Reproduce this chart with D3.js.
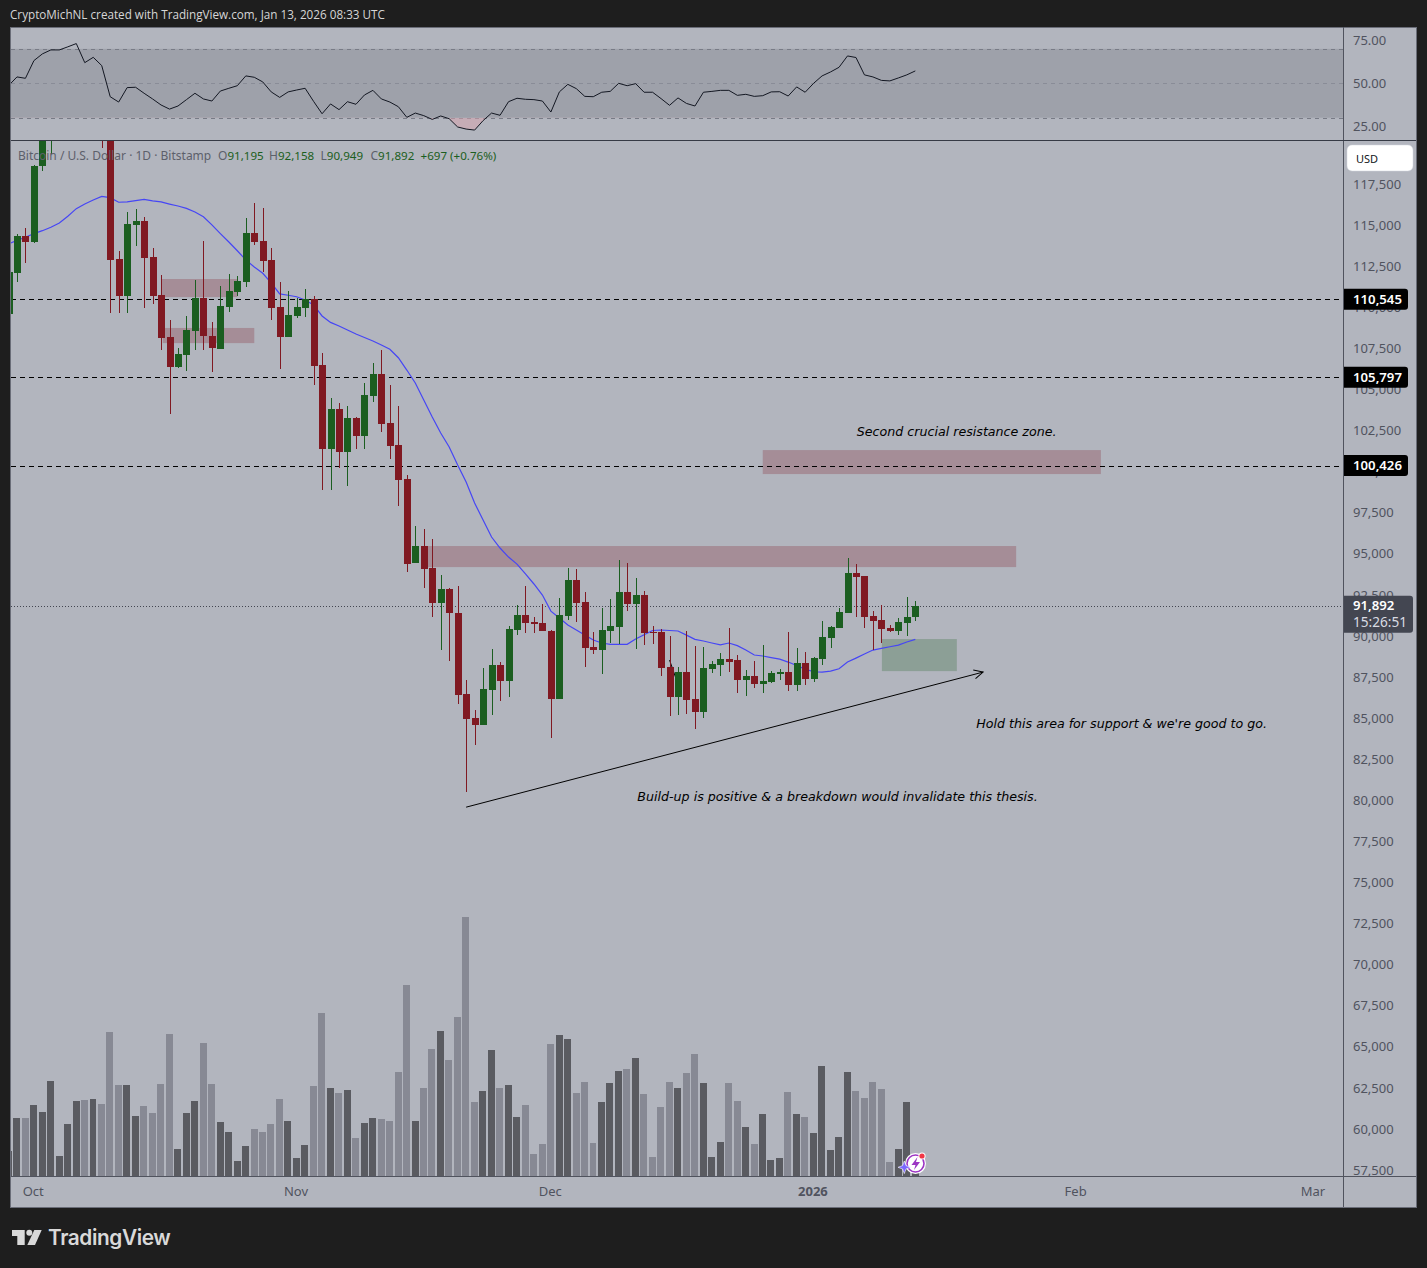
<!DOCTYPE html>
<html><head><meta charset="utf-8">
<script src="https://cdn.jsdelivr.net/npm/d3@7/dist/d3.min.js"></script>
<style>html,body{margin:0;padding:0;background:#1e1e1e;overflow:hidden}svg{display:block}</style>
</head><body><svg id="c" width="1427" height="1268"></svg>
<script>
const opens=[109670,112160,114400,114030,118670,120500,122200,122400,123500,124700,121400,123300,121700,112980,110760,115070,115310,113120,110810,108250,106440,107170,108610,110620,108310,107540,110090,111010,111610,114580,114090,112940,110080,108270,109530,110030,110560,106550,101450,103870,101270,103320,102240,104680,106000,103020,101680,99610,94510,95530,94190,92080,92910,91450,86520,85060,84650,86790,88290,87330,90440,91330,90900,90840,90360,86240,91290,93460,92120,89380,89220,90370,90620,92730,92020,92550,90300,90300,88170,86360,87860,86220,85450,88060,88300,88650,88590,87390,87620,87150,87270,87740,87860,87090,88410,87450,88670,89950,90560,91470,93890,93700,91270,91030,90540,90360,90860,91195];
const closes=[112190,114400,114030,118660,120500,122200,122400,123500,124700,121400,123300,121700,112950,110760,115130,115310,113080,110760,108210,106440,107210,108680,110620,108330,107600,110140,111050,111660,114580,114030,112890,110030,108270,109590,110080,110560,106500,101450,103870,101270,103320,102240,104720,106000,102970,101630,99560,94450,95530,94150,92080,92910,91470,86480,85020,84650,86830,88290,87330,90480,91330,90860,90800,90370,86240,91330,93460,92080,89340,89200,90420,90660,92730,92020,92550,90250,90230,88120,86360,87860,86180,85450,88100,88350,88650,88470,87390,87620,87150,87310,87800,87860,87090,88410,87450,88710,89990,90600,91510,93890,93660,91230,90980,90500,90360,90900,91210,91892];
const highs=[112330,114520,114880,118720,121000,122900,122900,125500,126200,125100,124000,123700,122500,113470,115840,116020,115530,113670,112020,109280,107580,109530,111720,114090,109160,111350,112080,111960,115490,116400,116100,113670,111600,111050,110620,111170,110750,107280,104540,104230,104050,103380,105450,106670,107460,105330,104050,99850,96750,96560,95960,93760,92970,93090,87370,85550,88100,89260,88470,90660,91940,93090,91210,92000,90420,92360,94190,94130,92730,90300,91760,92300,94680,94500,93580,92790,90660,90480,90050,88170,90360,89440,89380,88530,89020,90540,88900,87980,88530,89500,87920,88040,90300,89320,89080,88770,90970,90660,91760,94800,94430,93700,91570,91940,90720,91150,92430,92158];
const lows=[109590,111610,112770,113990,118370,119390,121700,122000,123200,120600,121100,119750,109730,109730,109730,113810,110030,110280,107480,103580,106380,106200,107480,107480,106140,107540,109790,110760,111310,113850,112200,109280,106320,108270,109410,109490,105350,98960,98960,100300,99200,101450,101450,104310,102490,100840,97980,93970,94510,92990,91230,89220,88550,85930,80580,83440,84650,85260,86110,86360,90130,90250,90250,90370,83860,86240,91040,90920,88180,88980,87760,89640,89580,91590,89280,89520,89580,87640,85200,85260,85320,84410,85080,87820,87640,87880,86600,86420,86910,86600,87210,87390,86720,86720,87090,87270,88300,89340,90560,91470,91230,90560,89200,89640,90310,90130,90070,90949];
const volumes=[500,1160,1160,1420,1280,1900,400,1040,1500,1520,1540,1440,2880,1820,1820,1200,1400,1260,1840,2840,540,1260,1500,2660,1840,1080,880,300,600,940,880,1040,1540,1100,360,620,1800,3260,1760,1660,1720,760,1060,1160,1140,1100,2080,3820,1100,1760,2540,2900,2320,3180,5180,1480,1700,2520,1760,1820,1180,1420,440,640,2640,2820,2740,1660,1880,660,1480,1860,2100,2140,2360,1640,380,1380,1880,1760,2060,2440,1860,380,680,1860,1500,980,640,1240,320,360,1680,1240,1180,860,2200,520,780,2080,1700,1560,1880,1740,280,540,1480,160];
const maValues=[113910,114130,114320,114540,114720,114930,115190,115600,116060,116340,116590,116810,116730,116450,116470,116550,116630,116530,116470,116340,116220,116080,115860,115570,115070,114540,114030,113500,112940,112510,112130,111550,110870,110790,110700,110500,110200,109530,109140,108920,108680,108430,108220,108010,107760,107500,106990,106240,105450,104420,103380,102410,101560,100460,99430,98150,97110,96080,95410,94860,94430,93830,93220,92550,91570,91150,90720,90420,90110,89810,89630,89550,89550,89550,89870,90130,90390,90420,90390,90360,90110,89850,89750,89630,89520,89630,89470,89200,88900,88840,88740,88650,88470,88260,88040,87880,87860,87920,88060,88470,88710,88960,89200,89300,89400,89500,89690,89850];
const rsiValues=[48.6,53.7,52.9,63.2,67.1,69.4,69.4,71.2,73.1,62.0,65.1,60.3,42.2,39.1,47.5,47.7,44.2,40.9,37.4,35.0,36.8,40.5,44.2,40.9,39.7,45.5,47.1,48.6,54.3,53.5,50.8,45.0,41.8,45.0,46.1,47.1,39.5,32.3,38.0,34.7,39.3,37.8,43.2,45.9,40.9,39.1,36.4,30.2,32.7,31.2,29.0,31.0,29.4,24.6,23.4,22.8,28.3,32.7,31.4,39.3,41.3,40.7,40.5,39.7,33.3,45.0,49.4,46.9,42.4,42.2,44.8,45.3,50,48.6,49.8,44.8,44.8,41.1,37.2,41.5,38.3,36.8,44.8,45.3,45.9,45.9,43.0,43.6,42.4,42.8,45.0,45.1,42.6,47.9,44.8,50,54.3,56.6,59.3,65.9,65.0,54.9,53.7,51.7,51.4,53.1,54.9,57.2];
const priceTicks=[117500,115000,112500,110000,107500,105000,102500,100000,97500,95000,92500,90000,87500,85000,82500,80000,77500,75000,72500,70000,67500,65000,62500,60000,57500];
const rsiTicks=[75,50,25];
const rsiBands=[70,50,30];
const monthIndex=[3,34,64,95,126,154];
const monthLabels=["Oct","Nov","Dec","2026","Feb","Mar"];
const levels=[110545,105797,100426];
const lastPrice=91892;
const redZones=[[18,27,111780,110680],[18.2,29,108800,107880],[49,118.9,95530,94250],[89,128.9,101370,99910]];
const greenZones=[[103.06,111.9,89870,87920]];
const trendLine=[[54,79640],[115,87860]];
const strayMark=[[78,88590],[78.7,87560],[79.3,87560]];
const notes=[["Second crucial resistance zone.",100.1,102500],["Hold this area for support & we're good to go.",114.2,84730],["Build-up is positive & a breakdown would invalidate this thesis.",74.2,80280]];
const legendTitle="Bitcoin / U.S. Dollar · 1D · Bitstamp";
const legendOHLC=[["O","91,195"],["H","92,158"],["L","90,949"],["C","91,892"]];
const legendChange="+697 (+0.76%)";
const headerText="CryptoMichNL created with TradingView.com, Jan 13, 2026 08:33 UTC";

const L=11,R=1343,T=28,RB=140,TB=1176,FR=1416,FB=1207;
const UI="'Noto Sans',sans-serif";
const GREEN="#1b5e20",RED="#801922",AX="#50535e";
const svg=d3.select("#c");
const x=d3.scaleLinear().domain([0,107]).range([8.5,915.3]);
const y=d3.scaleLinear().domain([117500,57500]).range([185,1171]);
const yR=d3.scaleLinear().domain([50,30]).range([83.3,117.7]);
const yV=d3.scaleLinear().domain([0,5180]).range([1176,917]);
const idx=opens.map((_,i)=>i);
const up=i=>closes[i]>=opens[i];

svg.append("rect").attr("x",10).attr("y",27).attr("width",FR-10+.5).attr("height",FB-27+.5).attr("fill","#b2b5be");
const defs=svg.append("defs");
defs.append("clipPath").attr("id","cm").append("rect").attr("x",L).attr("y",RB+1).attr("width",R-L).attr("height",TB-RB-1);
defs.append("clipPath").attr("id","cr").append("rect").attr("x",L).attr("y",T).attr("width",R-L).attr("height",RB-T);
defs.append("clipPath").attr("id","low").append("rect").attr("x",L).attr("y",yR(30)).attr("width",R-L).attr("height",40);
defs.append("marker").attr("id","ah").attr("markerUnits","userSpaceOnUse").attr("markerWidth",14).attr("markerHeight",14).attr("refX",11).attr("refY",7).attr("orient","auto")
 .append("path").attr("d","M2,2.5L11,7L2,11.5").attr("fill","none").attr("stroke","#000").attr("stroke-width",1);

// RSI pane
const r=svg.append("g").attr("clip-path","url(#cr)");
r.append("rect").attr("x",L).attr("y",yR(70)).attr("width",R-L).attr("height",yR(30)-yR(70)).attr("fill","#9ea1aa");
r.selectAll("line").data(rsiBands).join("line").attr("x1",L).attr("x2",R)
 .attr("y1",d=>Math.round(yR(d))+.5).attr("y2",d=>Math.round(yR(d))+.5)
 .attr("stroke","#787b86").attr("stroke-opacity",d=>d===50?.55:1).attr("stroke-dasharray","4 4");
r.append("path").datum(idx).attr("clip-path","url(#low)").attr("fill","#d9a3ad").attr("fill-opacity",.5)
 .attr("d",d3.area().x(i=>x(i)).y0(yR(30)).y1(i=>yR(rsiValues[i])));
r.append("path").datum(idx).attr("fill","none").attr("stroke","#131722").attr("stroke-width",1)
 .attr("d",d3.line().x(i=>x(i)).y(i=>yR(rsiValues[i])));

// main pane
const m=svg.append("g").attr("clip-path","url(#cm)");
m.append("g").selectAll("rect").data(idx).join("rect")
 .attr("x",i=>Math.round(x(i)-3.74)).attr("width",i=>Math.round(x(i)+4.24)-Math.round(x(i)-3.74)-1)
 .attr("y",i=>Math.round(yV(volumes[i]))).attr("height",i=>1176-Math.round(yV(volumes[i])))
 .attr("fill",i=>up(i)?"#5a5b61":"#878994");
const zone=(data,col)=>m.append("g").selectAll("rect").data(data).join("rect")
 .attr("x",d=>x(d[0])).attr("width",d=>x(d[1])-x(d[0])).attr("y",d=>y(d[2])).attr("height",d=>y(d[3])-y(d[2]))
 .attr("fill",col).attr("fill-opacity",.25);
zone(redZones,RED);zone(greenZones,GREEN);
m.append("g").selectAll("line").data(levels).join("line").attr("x1",L).attr("x2",R)
 .attr("y1",d=>Math.round(y(d))+.5).attr("y2",d=>Math.round(y(d))+.5)
 .attr("stroke","#000").attr("stroke-dasharray","5 4");
m.append("line").attr("x1",L).attr("x2",R).attr("y1",Math.round(y(lastPrice))+.5).attr("y2",Math.round(y(lastPrice))+.5)
 .attr("stroke","#434651").attr("stroke-dasharray","1 2");
m.append("path").datum(idx).attr("fill","none").attr("stroke","#4646f5").attr("stroke-width",1.2)
 .attr("d",d3.line().x(i=>x(i)).y(i=>y(maValues[i])));
m.append("path").datum(strayMark).attr("fill","none").attr("stroke","#000").attr("d",d3.line().x(d=>x(d[0])).y(d=>y(d[1])));
m.append("line").attr("x1",x(trendLine[0][0])).attr("y1",y(trendLine[0][1])).attr("x2",x(trendLine[1][0])).attr("y2",y(trendLine[1][1]))
 .attr("stroke","#000").attr("stroke-width",1).attr("marker-end","url(#ah)");
const cg=m.append("g").attr("shape-rendering","crispEdges");
cg.selectAll(".w").data(idx).join("rect").attr("class","w")
 .attr("x",i=>Math.round(x(i))).attr("width",1).attr("y",i=>y(highs[i])).attr("height",i=>y(lows[i])-y(highs[i]))
 .attr("fill",i=>up(i)?GREEN:RED);
cg.selectAll(".b").data(idx).join("rect").attr("class","b")
 .attr("x",i=>Math.round(x(i))-3).attr("width",7)
 .attr("y",i=>Math.round(y(Math.max(opens[i],closes[i]))))
 .attr("height",i=>Math.max(1,Math.round(y(Math.min(opens[i],closes[i])))-Math.round(y(Math.max(opens[i],closes[i])))))
 .attr("fill",i=>up(i)?GREEN:RED);

// notes
svg.append("g").selectAll("text").data(notes).join("text").text(d=>d[0])
 .attr("x",d=>x(d[1])).attr("y",d=>y(d[2])).attr("dy",".35em")
 .attr("font-family","'DejaVu Sans',sans-serif").attr("font-style","italic").attr("font-size",12.65).attr("fill","#000");

// legend
const lg=svg.append("g").attr("font-family",UI).attr("font-size",11.6);
lg.append("text").attr("x",18).attr("y",160).attr("font-size",12).attr("fill","#5d606b").text(legendTitle);
const lgX=[218,269,320.5,370.5];
legendOHLC.forEach((d,i)=>{
 const t=lg.append("text").attr("x",lgX[i]).attr("y",160);
 t.append("tspan").attr("fill","#5d606b").attr("font-size",12).text(d[0]);
 t.append("tspan").attr("fill",GREEN).text(d[1]);
});
lg.append("text").attr("x",420.5).attr("y",160).attr("fill",GREEN).text(legendChange);

// frame & separators
const fr=svg.append("g").attr("shape-rendering","crispEdges");
fr.append("rect").attr("x",10.5).attr("y",27.5).attr("width",FR-10).attr("height",FB-27).attr("fill","none").attr("stroke","#6a6d78");
fr.append("line").attr("x1",R+.5).attr("x2",R+.5).attr("y1",27).attr("y2",FB).attr("stroke","#50535e");
fr.append("line").attr("x1",L).attr("x2",FR).attr("y1",RB+.5).attr("y2",RB+.5).attr("stroke","#363a45");
fr.append("line").attr("x1",L).attr("x2",FR).attr("y1",TB+.5).attr("y2",TB+.5).attr("stroke","#50535e");

// axes
const styleAxis=g=>{g.select(".domain").remove();g.selectAll("line").remove();
 g.selectAll("text").attr("fill",AX).attr("font-family",UI).attr("font-size",13);};
svg.append("g")
 .call(d3.axisRight(y).tickValues(priceTicks).tickSize(0).tickPadding(0).tickFormat(d3.format(",")))
 .attr("transform",`translate(${R+10},-1)`).call(styleAxis);
svg.append("g").attr("transform",`translate(${R+10},0)`)
 .call(d3.axisRight(yR).tickValues(rsiTicks).tickSize(0).tickPadding(0).tickFormat(d3.format(".2f"))).call(styleAxis);
const tAx=svg.append("g").attr("transform",`translate(-1.2,${TB+11})`)
 .call(d3.axisBottom(x).tickValues(monthIndex).tickSize(0).tickPadding(0).tickFormat((d,i)=>monthLabels[i])).call(styleAxis);
tAx.selectAll("text").attr("font-weight",(d,i)=>monthLabels[i]==="2026"?700:400);

// price labels
svg.append("rect").attr("x",1347).attr("y",145).attr("width",66).attr("height",26).attr("rx",5).attr("fill","#fff").attr("stroke","#d1d4dc").attr("stroke-width",.5);
svg.append("text").attr("x",1356).attr("y",162.5).attr("font-family",UI).attr("font-size",11).attr("fill","#131722").text("USD");
levels.forEach(v=>{
 const cy=y(v);
 svg.append("path").attr("d",`M1344,${cy-10.5}H1405a3,3 0 0 1 3,3V${cy+7.5}a3,3 0 0 1 -3,3H1344Z`).attr("fill","#000");
 svg.append("text").attr("x",1353).attr("y",cy).attr("dy",".35em").attr("font-family",UI).attr("font-size",13.2).attr("font-weight",600).attr("fill","#fff").text(d3.format(",")(v));
});
const ly=y(lastPrice);
svg.append("path").attr("d",`M1344,${ly-10}H1410a3,3 0 0 1 3,3V${ly+24}a3,3 0 0 1 -3,3H1344Z`).attr("fill","#434651");
svg.append("text").attr("x",1353).attr("y",ly).attr("dy",".35em").attr("font-family",UI).attr("font-size",13.2).attr("font-weight",600).attr("fill","#fff").text(d3.format(",")(lastPrice));
svg.append("text").attr("x",1353).attr("y",ly+16).attr("dy",".35em").attr("font-family",UI).attr("font-size",13.6).attr("fill","#d9dbe3").text("15:26:51");

// header & footer
svg.append("text").attr("x",10).attr("y",19).attr("font-family","'Open Sans',sans-serif").attr("font-size",11.7).attr("font-weight",500).attr("fill","#d6d6d6").text(headerText);
const lg2=svg.append("g").attr("fill","#d9d9d9");
lg2.append("path").attr("d","M12,1230H24.7V1245H17.3V1236H12Z");
lg2.append("circle").attr("cx",29.3).attr("cy",1232.8).attr("r",3);
lg2.append("path").attr("d","M34.3,1230H41.7L35,1245H27.3Z");
lg2.append("text").attr("x",48).attr("y",1245).attr("font-family","'Inter',sans-serif").attr("font-size",20.8).attr("font-weight",600).attr("letter-spacing",-.4).text("TradingView");

// badge
const b=svg.append("g");
b.append("circle").attr("cx",915.5).attr("cy",1163.5).attr("r",10.5).attr("fill","#fff");
b.append("circle").attr("cx",915.5).attr("cy",1163.5).attr("r",8.5).attr("fill","#fff").attr("stroke","#9c35c4").attr("stroke-width",1.6);
b.append("path").attr("d","M917.5,1157L911.5,1165H915.5L914,1170L920,1162H916Z").attr("fill","#9c35c4");
b.append("circle").attr("cx",922).attr("cy",1156).attr("r",3.6).attr("fill","#fff");
b.append("circle").attr("cx",922).attr("cy",1156).attr("r",2.6).attr("fill","#f23645");
b.append("path").attr("d","M904.3,1161L906,1165.6L910.6,1167.3L906,1169L904.3,1173.6L902.6,1169L898,1167.3L902.6,1165.6Z").attr("fill","#7b68ff").attr("stroke","#fff").attr("stroke-width",.6);
</script></body></html>
